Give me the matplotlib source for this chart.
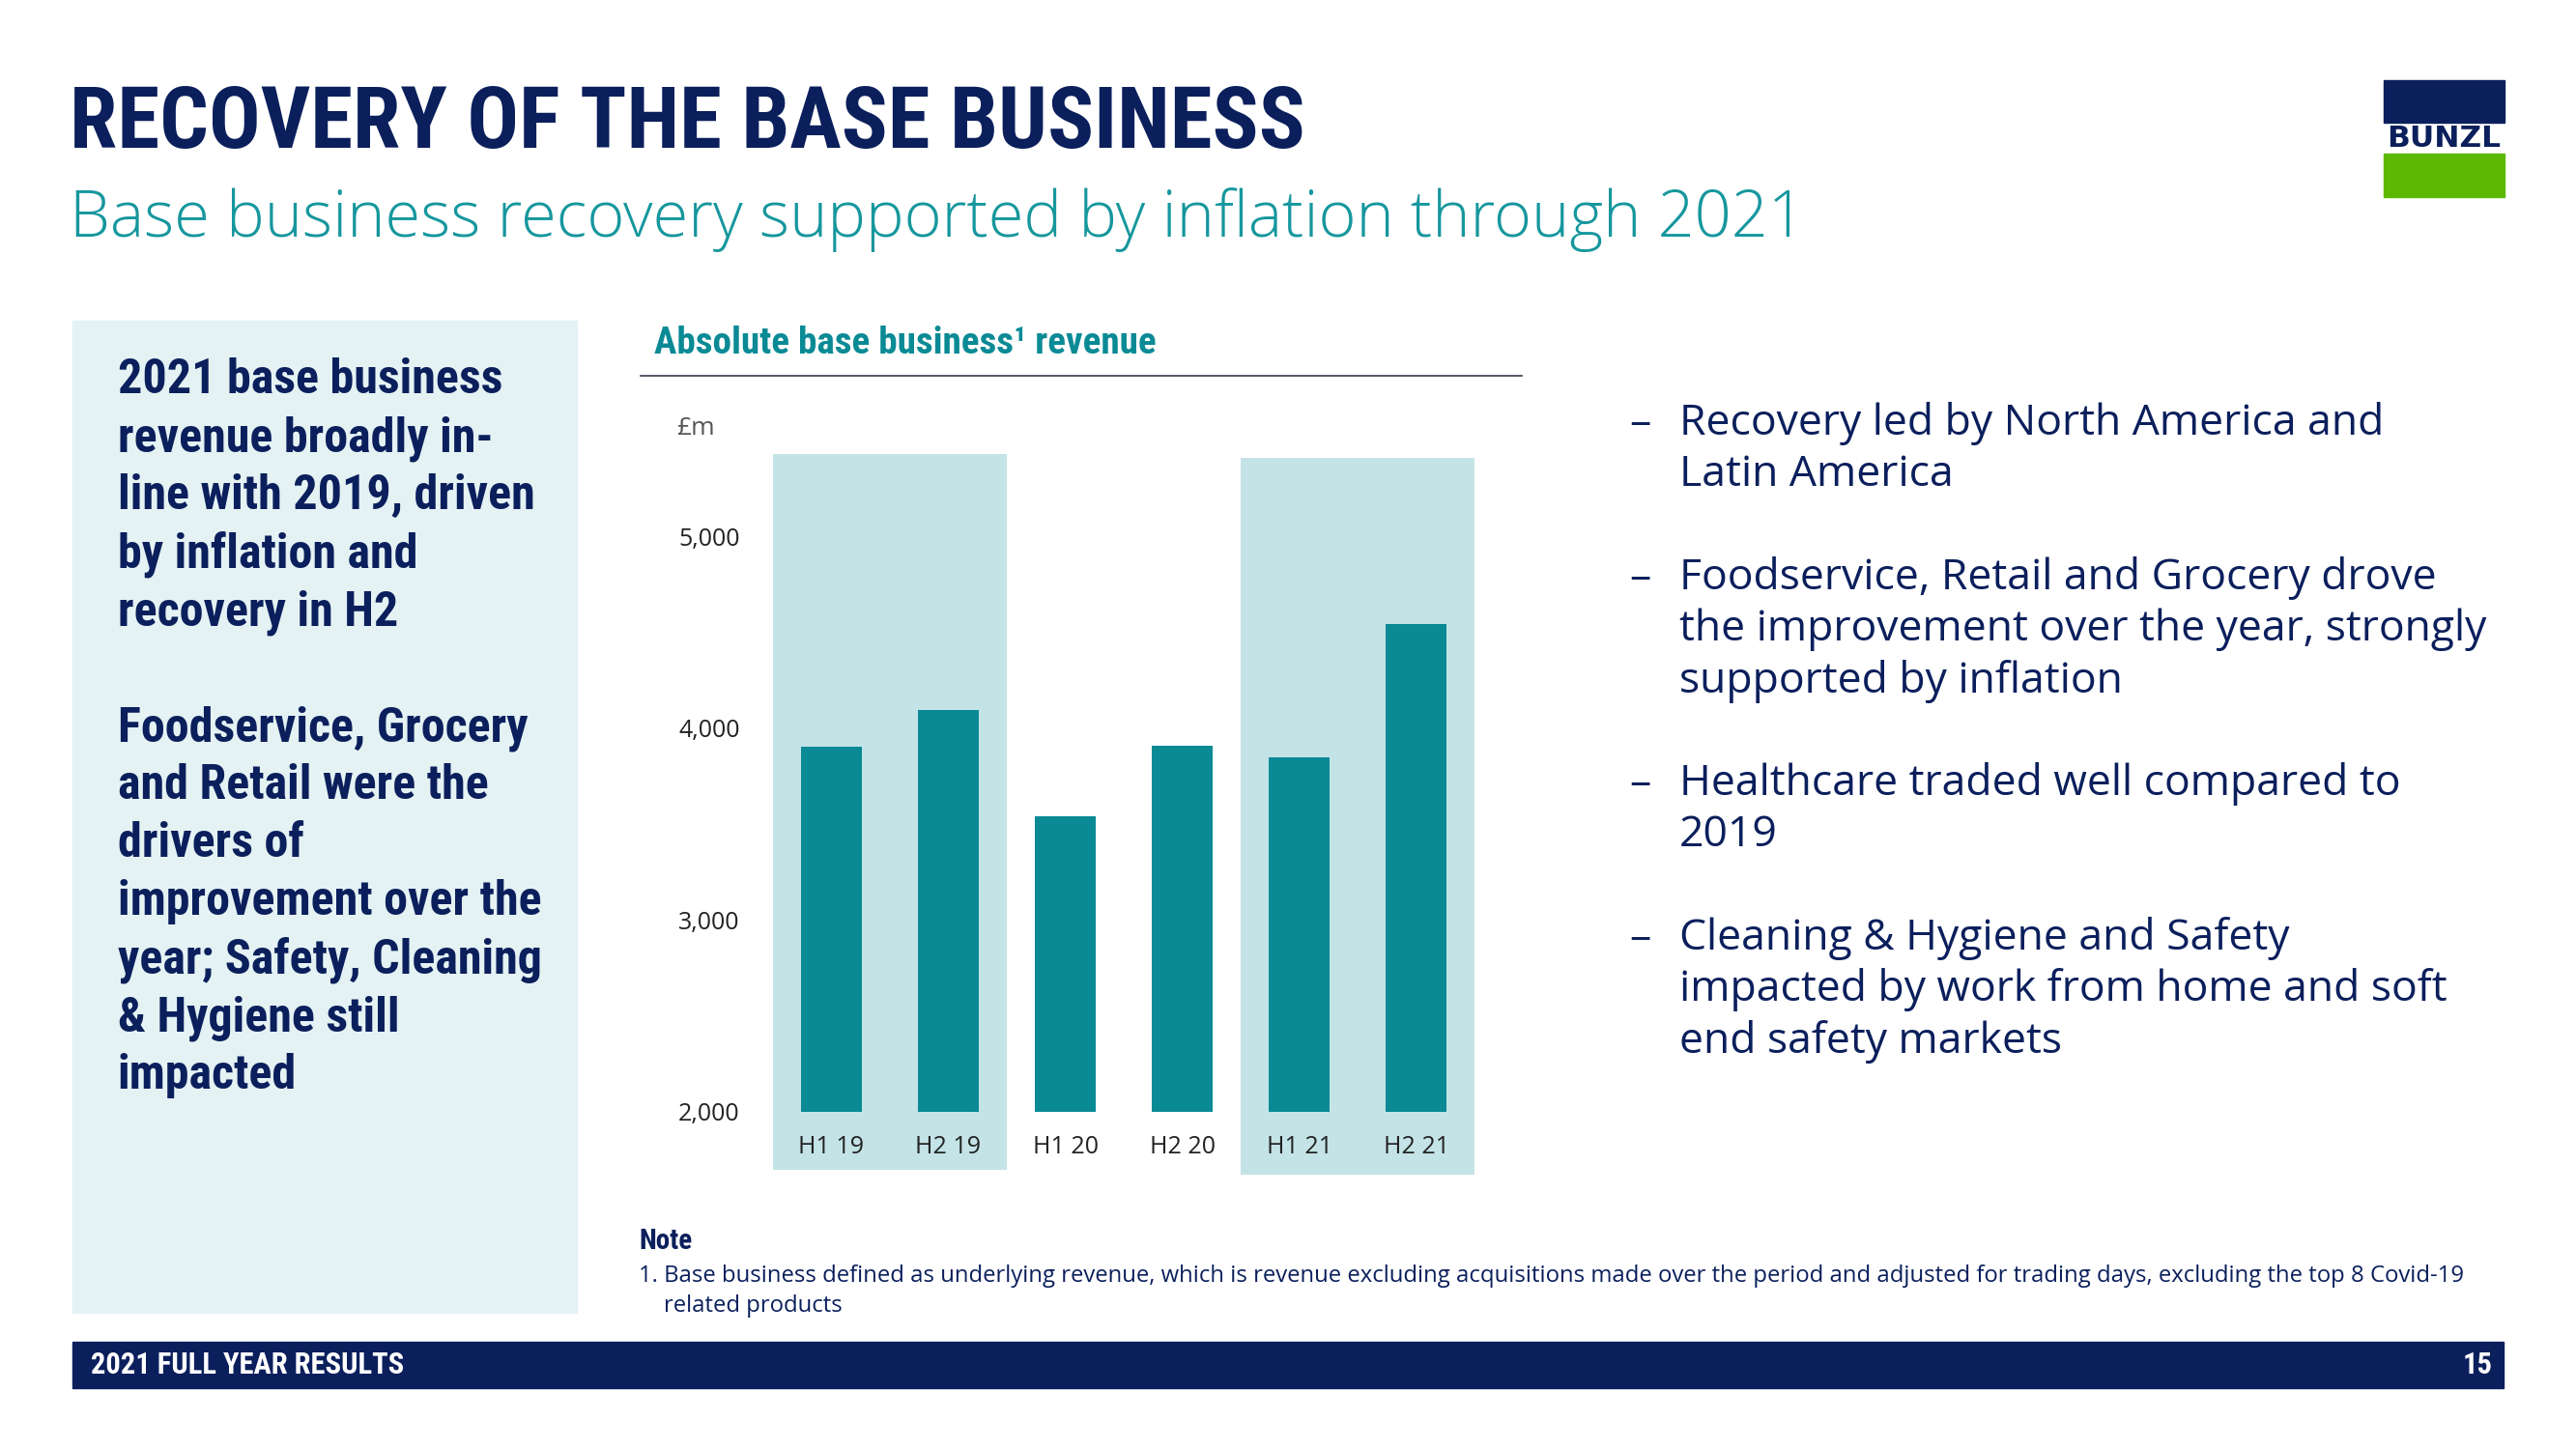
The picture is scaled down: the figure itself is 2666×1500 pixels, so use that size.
import matplotlib
matplotlib.use("Agg")
import matplotlib.pyplot as plt
from matplotlib import font_manager as fm
from matplotlib.patches import Rectangle

# ── Data ──────────────────────────────────────────────────────────────────────
periods  = ["H1 19", "H2 19", "H1 20", "H2 20", "H1 21", "H2 21"]
revenue  = [3905, 4095, 3540, 3910, 3845, 4545]          # £m
y_ticks  = [2000, 3000, 4000, 5000]
shaded   = [(0, 1), (4, 5)]                              # 2019 and 2021 highlighted

title    = "RECOVERY OF THE BASE BUSINESS"
subtitle = "Base business recovery supported by inflation through 2021"
chart_title = "Absolute base business\u00b9 revenue"

left_lines = [
    "2021 base business",
    "revenue broadly in-",
    "line with 2019, driven",
    "by inflation and",
    "recovery in H2",
    "",
    "Foodservice, Grocery",
    "and Retail were the",
    "drivers of",
    "improvement over the",
    "year; Safety, Cleaning",
    "& Hygiene still",
    "impacted",
]

bullets = [
    ["Recovery led by North America and", "Latin America"],
    ["Foodservice, Retail and Grocery drove",
     "the improvement over the year, strongly",
     "supported by inflation"],
    ["Healthcare traded well compared to", "2019"],
    ["Cleaning & Hygiene and Safety",
     "impacted by work from home and soft",
     "end safety markets"],
]

note_lines = [
    "1. Base business defined as underlying revenue, which is revenue excluding acquisitions "
    "made over the period and adjusted for trading days, excluding the top 8 Covid-19",
    "related products",
]

# ── Style ─────────────────────────────────────────────────────────────────────
NAVY   = "#0a1f5c"
TEAL   = "#0a8a94"
TEAL2  = "#16979d"
SHADE  = "#c3e3e6"
PANEL  = "#e5f2f4"
GREEN  = "#5cb800"
GREY   = "#222222"

W, H = 2666, 1500


def pick(*names):
    avail = {f.name for f in fm.fontManager.ttflist}
    for n in names:
        if n in avail:
            return n
    return "DejaVu Sans"


COND = pick("Roboto Condensed", "Liberation Sans Narrow", "Roboto")
SANS = pick("Open Sans", "Noto Sans", "DejaVu Sans")


def fx(x):
    return x / W


def fy(y):
    return 1 - y / H


fig = plt.figure(figsize=(W / 100, H / 100), dpi=100, facecolor="white")

# header
fig.text(fx(72), fy(153), title, family=COND, weight="bold", fontsize=64.2,
         color=NAVY, va="baseline")
fig.text(fx(72), fy(245), subtitle, family=SANS, weight="light", fontsize=48,
         color=TEAL2, va="baseline")

# logo
fig.patches.append(Rectangle((fx(2467), fy(127)), fx(125), 44 / H,
                             transform=fig.transFigure, color=NAVY))
fig.patches.append(Rectangle((fx(2467), fy(204)), fx(125), 45 / H,
                             transform=fig.transFigure, color=GREEN))
fig.text(fx(2529), fy(143), "BUNZL", family="DejaVu Sans", weight="bold",
         fontsize=22.5, color=NAVY, ha="center", va="center")

# left panel
fig.patches.append(Rectangle((fx(75), fy(1359)), fx(522), 1027 / H,
                             transform=fig.transFigure, color=PANEL, zorder=0))
for k, line in enumerate(left_lines):
    fig.text(fx(122), fy(407 + 60 * k), line, family=COND, weight="bold",
             fontsize=36, color=NAVY, va="baseline")

# right bullets
row = 0
for b in bullets:
    fig.text(fx(1686), fy(450 + 53.3 * row), "\u2013", family=SANS,
             fontsize=32, color=NAVY, va="baseline")
    for line in b:
        fig.text(fx(1738), fy(450 + 53.3 * row), line, family=SANS,
                 fontsize=32, color=NAVY, va="baseline")
        row += 1
    row += 1

# chart title + rule
fig.text(fx(677), fy(355), chart_title, family=COND, weight="bold",
         fontsize=28.2, color=TEAL, va="center")
fig.lines.append(plt.Line2D([fx(663), fx(1575)], [fy(389), fy(389)],
                            transform=fig.transFigure, color="#3a3a4a", lw=1.2))

# ── Bar chart ─────────────────────────────────────────────────────────────────
x0, x1 = 787.8, 1538.3
y0, y1 = 456.1, 1229.9
ax = fig.add_axes([fx(x0), fy(y1), (x1 - x0) / W, (y1 - y0) / H])
ax.set_xlim(-0.6, 5.6)
ax.set_ylim(1600, 5500)
ax.set_facecolor("none")
for s in ax.spines.values():
    s.set_visible(False)

for a, b in shaded:
    bottom = 1697 if a == 0 else 1672
    top = 5428 if a == 0 else 5408
    ax.add_patch(Rectangle((a - 0.5, bottom), b - a + 1, top - bottom,
                           color=SHADE, zorder=0, lw=0))

xs = list(range(len(periods)))
ax.bar(xs, [v - 2000 for v in revenue], bottom=2000, width=0.52,
       color=TEAL, zorder=2)
for x, p in zip(xs, periods):
    ax.text(x, 1813, p, ha="center", va="center", family=SANS,
            fontsize=18, color=GREY)

ax.set_xticks([])
ax.set_yticks(y_ticks)
ax.set_yticklabels([f"{v:,}" for v in y_ticks], family=SANS, fontsize=18,
                   color=GREY)
ax.tick_params(axis="y", length=0, pad=16)
fig.text(fx(700), fy(444), "\u00a3m", family=SANS, fontsize=19,
         color="#555555", va="center")

# note
fig.text(fx(661), fy(1285), "Note", family=COND, weight="bold", fontsize=21,
         color=NAVY, va="center")
fig.text(fx(661), fy(1321), note_lines[0], family=SANS, fontsize=17.2,
         color=NAVY, va="center")
fig.text(fx(687), fy(1352), note_lines[1], family=SANS, fontsize=17.2,
         color=NAVY, va="center")

# footer
fig.patches.append(Rectangle((fx(75), fy(1437)), fx(2516), 48 / H,
                             transform=fig.transFigure, color=NAVY))
fig.text(fx(94), fy(1413), "2021 FULL YEAR RESULTS", family=COND,
         weight="bold", fontsize=22, color="white", va="center")
fig.text(fx(2580), fy(1413), "15", family=COND, weight="bold", fontsize=22,
         color="white", va="center", ha="right")

fig.savefig("out.png", dpi=100, facecolor="white")
